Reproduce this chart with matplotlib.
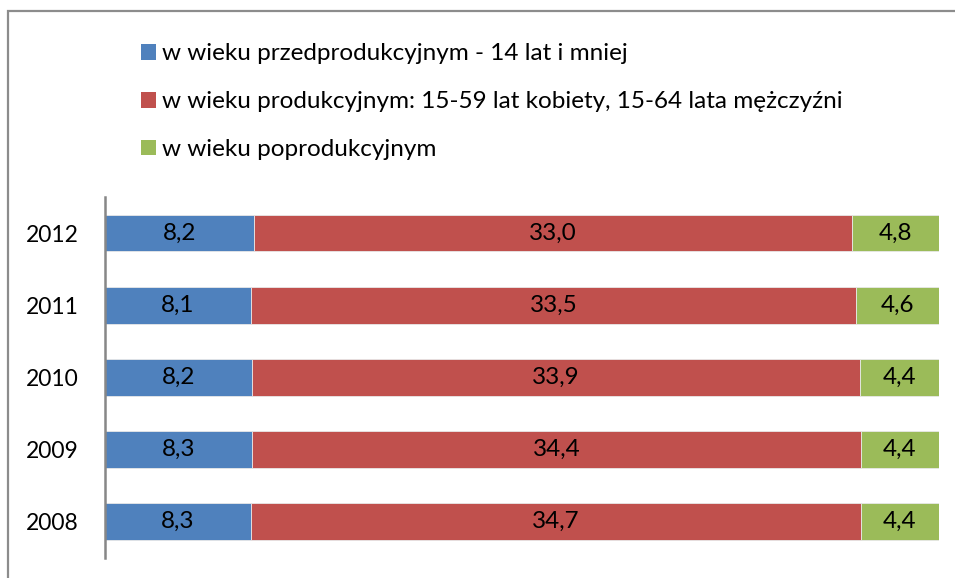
import matplotlib
matplotlib.use("Agg")
import matplotlib.pyplot as plt
from matplotlib.patches import Patch, Rectangle
import numpy as np

years = ["2008", "2009", "2010", "2011", "2012"]
pre_prod = [8.3, 8.3, 8.2, 8.1, 8.2]
prod = [34.7, 34.4, 33.9, 33.5, 33.0]
post_prod = [4.4, 4.4, 4.4, 4.6, 4.8]
series_names = [
    "w wieku przedprodukcyjnym - 14 lat i mniej",
    "w wieku produkcyjnym: 15-59 lat kobiety, 15-64 lata mężczyźni",
    "w wieku poprodukcyjnym",
]
colors = ["#4F81BD", "#C0504D", "#9BBB59"]

plt.rcParams["font.family"] = ["Lato", "DejaVu Sans"]

W, H = 955, 578
fig = plt.figure(figsize=(W / 100, H / 100), dpi=100)
ax = fig.add_axes([105 / W, 1 - 557.7 / H, (938.7 - 105) / W, (557.7 - 197) / H])

data = np.array([pre_prod, prod, post_prod], dtype=float)
totals = data.sum(axis=0)
shares = data / totals
y = np.arange(len(years))
left = np.zeros(len(years))
for vals, share, color in zip(data, shares, colors):
    bars = ax.barh(y, share, left=left, height=0.51, color=color,
                   edgecolor="#e8e8e8", linewidth=0.6)
    ax.bar_label(bars, labels=[f"{v:.1f}".replace(".", ",") for v in vals],
                 label_type="center", fontsize=17.5, color="black")
    left += share

ax.set_xlim(0, 1)
ax.set_ylim(-0.5, len(years) - 0.5)
ax.set_yticks(y)
ax.set_yticklabels(years, fontsize=16.5)
ax.tick_params(axis="y", length=0, pad=19)
ax.set_xticks([])
for s in ["top", "right", "bottom"]:
    ax.spines[s].set_visible(False)
ax.spines["left"].set_color("#878787")
ax.spines["left"].set_linewidth(1.8)

handles = [Patch(facecolor=c, edgecolor="none") for c in colors]
fig.legend(handles, series_names, loc="upper left",
           bbox_to_anchor=(141 / W, 1 - 43.5 / H), frameon=False,
           fontsize=17.5, handlelength=0.62, handleheight=0.62,
           handletextpad=0.25, labelspacing=1.1, borderaxespad=0, borderpad=0)

fig.add_artist(Rectangle((8 / W, -0.1), 1.2, (H - 11) / H + 0.1,
                         transform=fig.transFigure, fill=False,
                         edgecolor="#8c8c8c", linewidth=1.6, clip_on=False))

fig.savefig("out.png", dpi=100)
